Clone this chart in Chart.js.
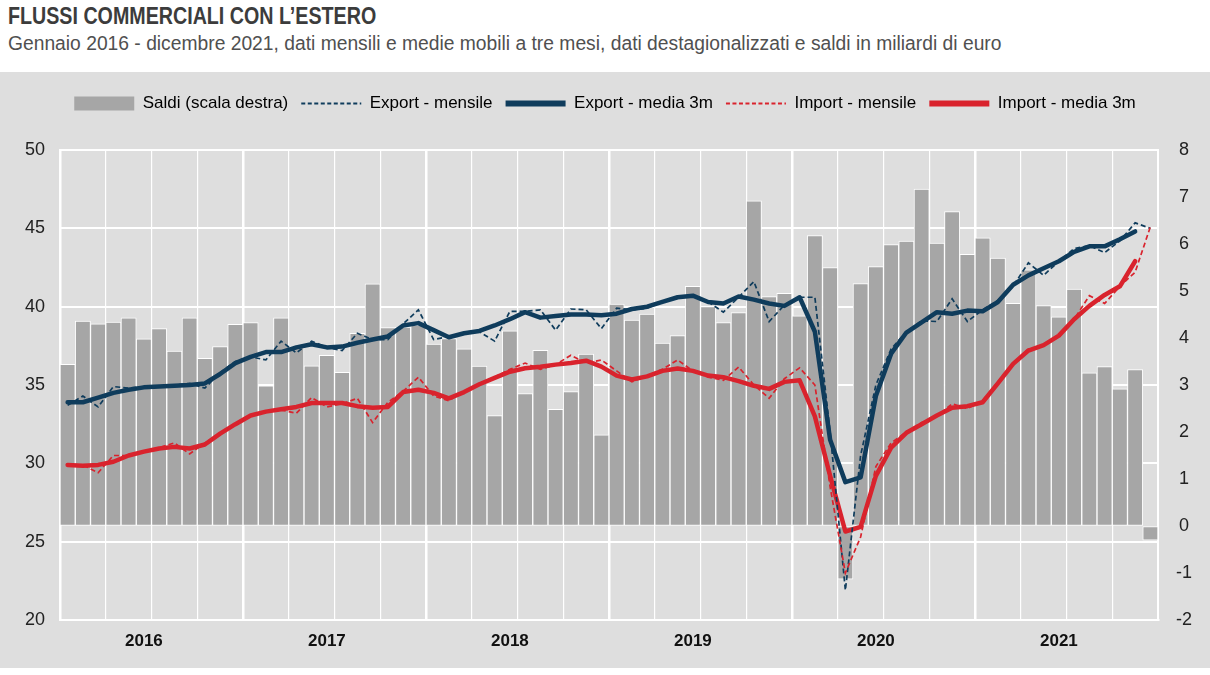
<!DOCTYPE html>
<html lang="it">
<head>
<meta charset="utf-8">
<title>Flussi commerciali con l'estero</title>
<script src="https://cdn.jsdelivr.net/npm/chart.js@4.4.1/dist/chart.umd.min.js"></script>
<style>
    body {
        margin: 0;
        width: 1210px;
        height: 675px;
        overflow: hidden;
        background: #fff;
        font-family: "Liberation Sans", Arial, sans-serif;
    }
    #title {
        position: absolute;
        left: 8px;
        top: 3px;
        font-size: 23px;
        font-weight: bold;
        color: #3c3c3c;
        white-space: nowrap;
        transform: scaleX(0.855);
        transform-origin: left top;
    }
    #subtitle {
        position: absolute;
        left: 8px;
        top: 32px;
        font-size: 20px;
        color: #505050;
        white-space: nowrap;
        transform: scaleX(0.963);
        transform-origin: left top;
    }
    #panel {
        position: absolute;
        left: 0;
        top: 72px;
        width: 1210px;
        height: 596px;
        background: #dedede;
    }
</style>
</head>
<body>
<div id="title">FLUSSI COMMERCIALI CON L’ESTERO</div>
<div id="subtitle">Gennaio 2016 - dicembre 2021, dati mensili e medie mobili a tre mesi, dati destagionalizzati e saldi in miliardi di euro</div>
<div id="panel"><canvas id="chart" width="1210" height="596"></canvas></div>

<script>
// Data (monthly, gen 2016 - dic 2021)
const years = [2016, 2017, 2018, 2019, 2020, 2021];
const months = ["gen", "feb", "mar", "apr", "mag", "giu", "lug", "ago", "set", "ott", "nov", "dic"];

// Saldi, miliardi di euro (scala destra)
const saldi = [
    3.44, 4.36, 4.30, 4.34, 4.43, 3.98, 4.20, 3.72, 4.43, 3.57, 3.82, 4.29,
    4.33, 2.98, 4.43, 3.82, 3.41, 3.63, 3.27, 4.10, 5.15, 4.22, 4.23, 4.27,
    3.87, 3.99, 3.77, 3.40, 2.35, 4.15, 2.82, 3.74, 2.48, 2.86, 3.66, 1.94,
    4.72, 4.38, 4.51, 3.89, 4.05, 5.10, 4.67, 4.33, 4.54, 6.92, 4.88, 4.95,
    4.47, 6.18, 5.50, -1.13, 5.16, 5.52, 5.99, 6.06, 7.17, 6.02, 6.69, 5.78,
    6.13, 5.70, 4.74, 5.45, 4.69, 4.45, 5.04, 3.26, 3.39, 2.92, 3.33, -0.30
];

const exportMensile = [
    33.7, 34.3, 33.6, 34.9, 34.8, 34.9, 34.9, 35.0, 35.1, 34.8, 35.8, 36.5,
    36.8, 36.6, 37.8, 37.05, 37.8, 37.4, 37.2, 38.3, 37.9, 37.9, 38.9, 39.8,
    37.9, 38.1, 38.3, 38.4, 37.8, 39.7, 39.7, 39.8, 38.5, 39.85, 39.8, 38.6,
    39.9, 39.8, 39.9, 40.3, 40.6, 40.7, 40.3, 39.65, 40.6, 41.6, 39.05, 40.1,
    40.6, 40.6, 32.0, 21.9, 30.5, 35.0, 37.3, 38.4, 39.1, 39.05, 40.5, 39.05,
    39.8, 40.4, 41.3, 42.8, 42.0, 42.9, 43.7, 43.9, 43.45, 44.2, 45.35, 45.0
];

const exportMedia = [
    33.9, 33.9, 34.2, 34.5, 34.7, 34.85, 34.9, 34.95, 35.0, 35.1, 35.7, 36.4,
    36.8, 37.1, 37.1, 37.4, 37.6, 37.4, 37.45, 37.7, 37.9, 38.1, 38.8, 38.95,
    38.5, 38.05, 38.3, 38.45, 38.8, 39.2, 39.65, 39.3, 39.4, 39.5, 39.5, 39.45,
    39.55, 39.85, 40.0, 40.3, 40.6, 40.7, 40.3, 40.2, 40.65, 40.45, 40.2, 40.05,
    40.6, 38.4, 31.5, 28.8, 29.1, 34.3, 37.0, 38.35, 39.0, 39.65, 39.55, 39.75,
    39.7, 40.3, 41.4, 42.0, 42.45, 42.9, 43.5, 43.85, 43.85, 44.3, 44.8, null
];

const importMensile = [
    29.9, 29.9, 29.4, 30.5, 30.5, 30.7, 31.0, 31.3, 30.6, 31.3, 31.9, 32.5,
    33.1, 33.3, 33.4, 33.2, 34.2, 33.6, 33.8, 34.15, 32.6, 33.9, 34.6, 35.5,
    34.3, 34.0, 34.6, 35.1, 35.5, 36.0, 36.4, 36.0, 36.3, 36.9, 36.4, 36.6,
    35.9, 35.2, 35.6, 36.0, 36.6, 35.9, 35.5, 35.3, 36.15, 35.0, 34.15, 35.4,
    36.1, 35.0, 28.5, 23.0, 25.3, 29.8, 31.3, 32.0, 32.6, 33.0, 33.8, 33.5,
    34.0, 35.2, 36.3, 37.3, 37.5, 38.1, 39.2, 40.7, 40.2, 41.3, 42.2, 45.1
];

const importMedia = [
    29.9, 29.85, 29.9, 30.1, 30.5, 30.75, 30.95, 31.05, 30.95, 31.2, 31.9, 32.5,
    33.05, 33.3, 33.45, 33.6, 33.85, 33.85, 33.85, 33.65, 33.55, 33.6, 34.55, 34.7,
    34.5, 34.15, 34.55, 35.05, 35.45, 35.85, 36.07, 36.17, 36.3, 36.4, 36.55, 36.17,
    35.6, 35.35, 35.55, 35.9, 36.05, 35.9, 35.6, 35.5, 35.25, 34.95, 34.75, 35.2,
    35.3, 33.0, 29.2, 25.65, 25.95, 29.2, 31.0, 31.95, 32.5, 33.05, 33.55, 33.65,
    33.9, 35.1, 36.35, 37.2, 37.55, 38.15, 39.2, 40.05, 40.75, 41.3, 42.9, null
];

const leftTicks = { min: 20, max: 50, step: 5 };
const rightTicks = { min: -2, max: 8, step: 1 };

const labels = [];
years.forEach(y => months.forEach(m => labels.push(m + " " + y)));

const FONT = "'Liberation Sans', Arial, sans-serif";
const NAVY = "#0f3c5c";
const RED = "#d9232d";
const BAR = "#a6a6a6";

// Legend items drawn with Chart.js' own legend
const legendItems = [
    { text: "Saldi (scala destra)", pointStyle: "rect", fillStyle: BAR, strokeStyle: BAR, lineWidth: 0 },
    { text: "Export - mensile", pointStyle: "line", strokeStyle: NAVY, lineWidth: 2, lineDash: [4, 2.5] },
    { text: "Export - media 3m", pointStyle: "line", strokeStyle: NAVY, lineWidth: 6 },
    { text: "Import - mensile", pointStyle: "line", strokeStyle: RED, lineWidth: 2, lineDash: [4, 2.5] },
    { text: "Import - media 3m", pointStyle: "line", strokeStyle: RED, lineWidth: 6 }
];

// keeps the legend block a fixed height so the plot starts where the reference does
const legendSpace = {
    id: "legendSpace",
    beforeInit(chart) {
        const fit = chart.legend.fit;
        chart.legend.fit = function () {
            fit.bind(chart.legend)();
            this.height = 68;
        };
    }
};

const ctx = document.getElementById("chart").getContext("2d");
new Chart(ctx, {
    data: {
        labels: labels,
        datasets: [
            {
                type: "bar",
                label: "Saldi (scala destra)",
                data: saldi,
                yAxisID: "y1",
                backgroundColor: BAR,
                borderColor: "#ffffff",
                borderWidth: 1,
                borderSkipped: false,
                barPercentage: 1,
                categoryPercentage: 1,
                order: 10
            },
            {
                type: "line",
                label: "Export - mensile",
                data: exportMensile,
                yAxisID: "y",
                borderColor: NAVY,
                borderWidth: 1.7,
                borderDash: [5, 3],
                pointRadius: 0,
                tension: 0,
                order: 2
            },
            {
                type: "line",
                label: "Export - media 3m",
                data: exportMedia,
                yAxisID: "y",
                borderColor: NAVY,
                borderWidth: 4.5,
                borderJoinStyle: "round",
                borderCapStyle: "round",
                pointRadius: 0,
                tension: 0,
                order: 4
            },
            {
                type: "line",
                label: "Import - mensile",
                data: importMensile,
                yAxisID: "y",
                borderColor: RED,
                borderWidth: 1.7,
                borderDash: [5, 3],
                pointRadius: 0,
                tension: 0,
                order: 1
            },
            {
                type: "line",
                label: "Import - media 3m",
                data: importMedia,
                yAxisID: "y",
                borderColor: RED,
                borderWidth: 4.5,
                borderJoinStyle: "round",
                borderCapStyle: "round",
                pointRadius: 0,
                tension: 0,
                order: 3
            }
        ]
    },
    options: {
        responsive: false,
        animation: false,
        layout: { padding: { top: 10, left: 0, right: 0, bottom: 0 } },
        plugins: {
            tooltip: { enabled: false },
            legend: {
                position: "top",
                align: "center",
                labels: {
                    usePointStyle: true,
                    pointStyleWidth: 60,
                    boxHeight: 14,
                    padding: 13,
                    color: "#111",
                    font: { family: FONT, size: 17 },
                    generateLabels: () => legendItems.map(it => Object.assign({ hidden: false }, it))
                }
            }
        },
        scales: {
            x: {
                type: "category",
                offset: true,
                grid: {
                    offset: true,
                    drawTicks: false,
                    color: c => (c.index % 3 === 0 ? "#ffffff" : "rgba(0,0,0,0)"),
                    lineWidth: c => (c.index % 12 === 0 ? 2.5 : 1.2)
                },
                border: { display: true, color: "#ffffff", width: 2 },
                ticks: {
                    autoSkip: false,
                    maxRotation: 0,
                    padding: 11,
                    color: "#111",
                    font: { family: FONT, size: 17, weight: "bold" },
                    callback: (v, i) => (i % 12 === 5 ? String(years[Math.floor(i / 12)]) : "")
                },
                afterFit: s => { s.height = 48; }
            },
            y: {
                position: "left",
                min: leftTicks.min,
                max: leftTicks.max,
                grid: { color: "#ffffff", lineWidth: 2, drawTicks: false },
                border: { display: true, color: "#ffffff", width: 2 },
                ticks: {
                    stepSize: leftTicks.step,
                    padding: 15,
                    color: "#222",
                    font: { family: FONT, size: 18 }
                },
                afterFit: s => { s.width = 60; }
            },
            y1: {
                position: "right",
                min: rightTicks.min,
                max: rightTicks.max,
                grid: { drawOnChartArea: false, drawTicks: false },
                border: { display: true, color: "#ffffff", width: 2 },
                ticks: {
                    stepSize: rightTicks.step,
                    padding: 18,
                    crossAlign: "center",
                    color: "#222",
                    font: { family: FONT, size: 18 }
                },
                afterFit: s => { s.width = 52; }
            }
        }
    },
    plugins: [legendSpace]
});
</script>
</body>
</html>
